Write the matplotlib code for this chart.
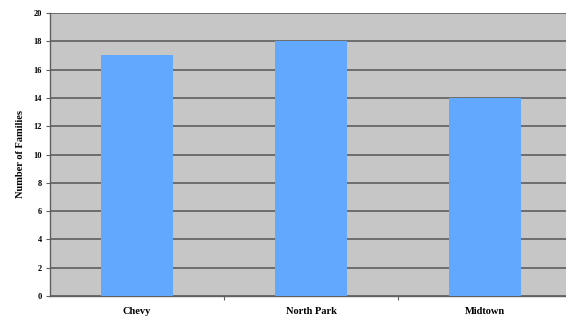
import matplotlib
matplotlib.use("Agg")
import matplotlib.pyplot as plt

categories = ["Chevy", "North Park", "Midtown"]
families = [17, 18, 14]
y_ticks = [0, 2, 4, 6, 8, 10, 12, 14, 16, 18, 20]

plt.rcParams['font.family'] = ['Liberation Serif', 'DejaVu Serif']

fig = plt.figure(figsize=(5.66, 3.26), dpi=100)
ax = fig.add_axes([50 / 566, 30 / 326, 522 / 566, 283 / 326])
ax.set_facecolor("#c6c6c6")

x = list(range(len(categories)))
ax.bar(x, families, width=0.41, color="#62a8ff", zorder=3)

ax.set_xlim(-0.5, len(categories) - 0.5)
ax.set_ylim(0, 20)
ax.set_yticks(y_ticks)
ax.set_yticklabels([str(v) for v in y_ticks], fontsize=6, fontweight="bold")
ax.yaxis.grid(True, color="#5e5e5e", linewidth=1.2, zorder=1)
ax.set_axisbelow(True)

# category labels sit between the boundary tick marks
ax.set_xticks(x)
ax.set_xticklabels(categories, fontsize=7.5, fontweight="bold")
ax.tick_params(axis="x", length=0, pad=8)
ax.set_xticks([0.5, 1.5], minor=True)
ax.tick_params(axis="x", which="minor", length=3, color="#606060", width=0.8)
ax.tick_params(axis="y", length=3, color="#606060", width=0.8, pad=3)

ax.set_ylabel("Number of Families", fontsize=7.5, fontweight="bold", labelpad=6)

for side in ["top", "right"]:
    ax.spines[side].set_visible(False)
for side in ["left", "bottom"]:
    ax.spines[side].set_color("#606060")
    ax.spines[side].set_linewidth(1.0)

fig.savefig("out.png", dpi=100)
